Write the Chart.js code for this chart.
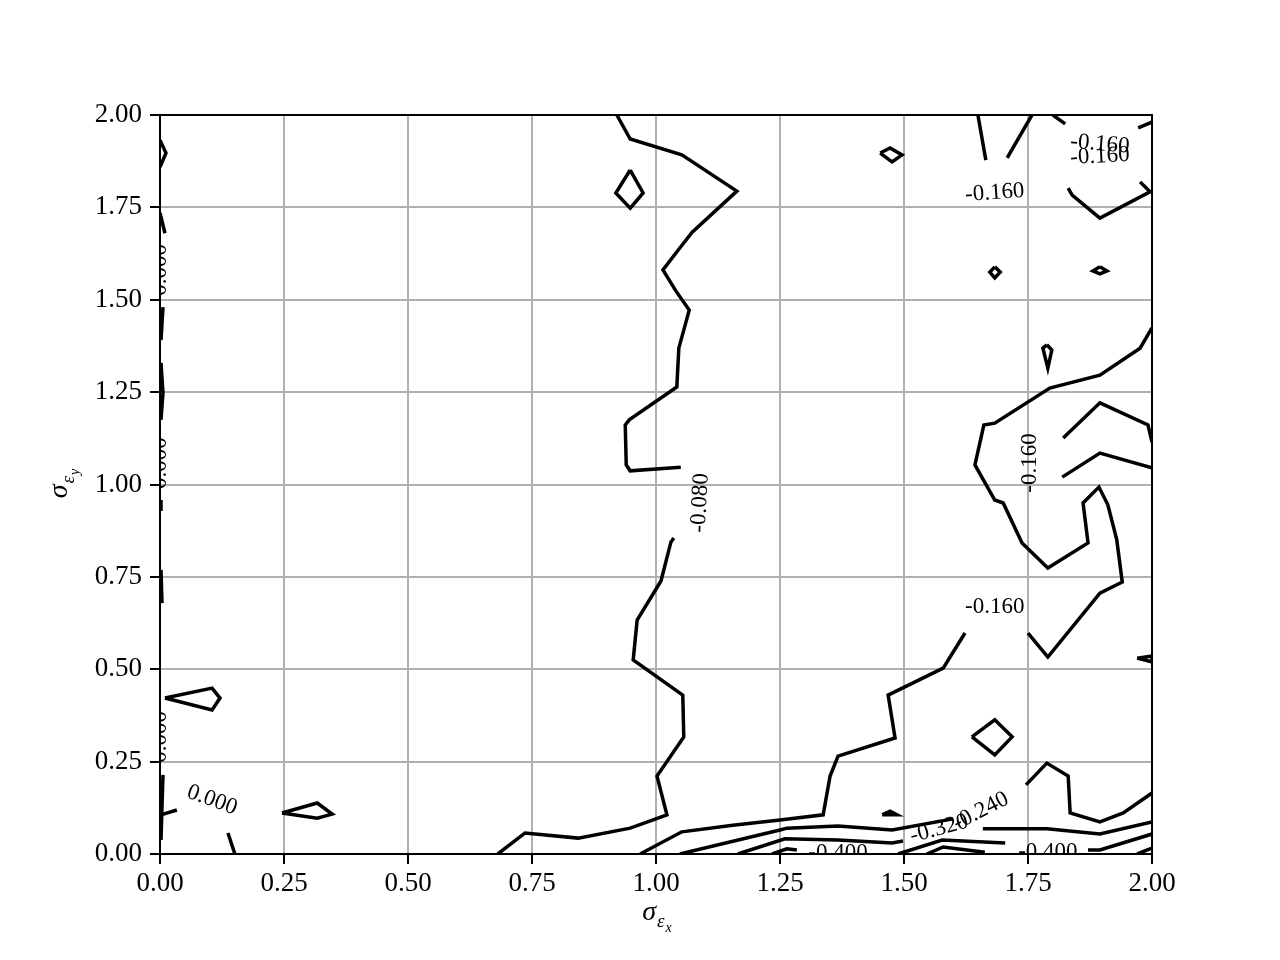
<!DOCTYPE html>
<html>
<head>
<meta charset="utf-8">
<script src="https://cdn.jsdelivr.net/npm/chart.js@4/dist/chart.umd.min.js"></script>
<style>
  body { margin: 0; background: #fff; }
  #wrap { width: 1280px; height: 960px; }
</style>
</head>
<body>
<div id="wrap"><canvas id="contourChart" width="1280" height="960"></canvas></div>
<script>
// contour polylines, as [sigma_ex, sigma_ey]
const c080Upper = [[0.921, 2.0], [0.948, 1.935], [1.052, 1.892], [1.163, 1.794], [1.073, 1.683], [1.048, 1.640], [1.014, 1.581], [1.040, 1.524], [1.067, 1.472], [1.046, 1.369], [1.042, 1.264], [0.946, 1.175], [0.938, 1.161], [0.940, 1.053], [0.948, 1.037], [1.050, 1.047]];
const c080Lower = [[1.036, 0.855], [1.030, 0.844], [1.010, 0.739], [0.962, 0.633], [0.954, 0.525], [1.054, 0.430], [1.056, 0.317], [1.002, 0.211], [1.022, 0.106], [0.948, 0.070], [0.843, 0.043], [0.736, 0.057], [0.681, 0.0]];
const c080Diamond = [[0.948, 1.851], [0.974, 1.789], [0.948, 1.748], [0.919, 1.789], [0.948, 1.851]];

const c160Main = [[0.968, 0.0], [1.052, 0.060], [1.155, 0.078], [1.250, 0.092], [1.337, 0.106], [1.351, 0.211], [1.367, 0.265], [1.482, 0.314], [1.468, 0.430], [1.579, 0.503], [1.623, 0.598]];
const c160Right = [[1.750, 0.598], [1.790, 0.533], [1.895, 0.706], [1.940, 0.736], [1.929, 0.850], [1.911, 0.945], [1.893, 0.993], [1.861, 0.950], [1.871, 0.842], [1.790, 0.774], [1.738, 0.842], [1.700, 0.950], [1.683, 0.958], [1.643, 1.053], [1.661, 1.161], [1.683, 1.166], [1.794, 1.261], [1.895, 1.296], [1.976, 1.369], [2.0, 1.424]];
const c160Inner1 = [[1.821, 1.126], [1.895, 1.221], [1.992, 1.161], [2.0, 1.115]];
const c160Inner2 = [[1.819, 1.020], [1.895, 1.085], [2.0, 1.045]];
const c160TopA = [[1.649, 2.0], [1.665, 1.878]];
const c160TopB = [[1.758, 2.0], [1.708, 1.884]];
const c160TopC = [[1.800, 2.0], [1.825, 1.976]];
const c160TopD = [[1.972, 1.965], [2.0, 1.981]];
const c160Vee = [[1.831, 1.802], [1.839, 1.783], [1.895, 1.721], [1.996, 1.792], [1.976, 1.819]];
const c160Diamond1 = [[1.452, 1.897], [1.472, 1.911], [1.496, 1.892], [1.476, 1.873], [1.452, 1.897]];
const c160Diamond2 = [[1.683, 1.589], [1.694, 1.575], [1.683, 1.559], [1.673, 1.575], [1.683, 1.589]];
const c160Diamond3 = [[1.895, 1.589], [1.909, 1.578], [1.895, 1.570], [1.881, 1.578], [1.895, 1.589]];
const c160Drop = [[1.788, 1.378], [1.798, 1.364], [1.790, 1.315], [1.780, 1.369], [1.788, 1.378]];
const c160Wedge = [[1.970, 0.530], [2.0, 0.536], [2.0, 0.520], [1.970, 0.530]];
const c160Diamond4 = [[1.637, 0.317], [1.683, 0.363], [1.718, 0.317], [1.683, 0.268], [1.637, 0.317]];
const c160Blob = [[1.456, 0.106], [1.472, 0.116], [1.486, 0.106], [1.456, 0.106]];

const c240Left = [[1.048, 0.0], [1.250, 0.065], [1.264, 0.070], [1.367, 0.076], [1.476, 0.065], [1.599, 0.095]];
const c240Right = [[1.746, 0.187], [1.788, 0.246], [1.831, 0.211], [1.835, 0.111], [1.895, 0.087], [1.942, 0.111], [2.0, 0.165]];
const c320Left = [[1.165, 0.0], [1.260, 0.041], [1.367, 0.038], [1.476, 0.030], [1.498, 0.035]];
const c320Right = [[1.659, 0.068], [1.788, 0.068], [1.895, 0.054], [2.0, 0.087]];
const c400Left = [[1.234, 0.0], [1.264, 0.014], [1.284, 0.011]];
const c400Mid = [[1.488, 0.0], [1.577, 0.038], [1.704, 0.030]];
const c400Right = [[1.871, 0.011], [1.895, 0.011], [2.0, 0.054]];
const c480Mid = [[1.546, 0.0], [1.579, 0.019], [1.663, 0.005]];
const c480Right = [[1.970, 0.0], [2.0, 0.016]];

const c000Top = [[0.0, 1.932], [0.012, 1.897], [0.0, 1.859]];
const c000A = [[0.0, 1.735], [0.010, 1.680]];
const c000B = [[0.006, 1.480], [0.002, 1.391]];
const c000C = [[0.002, 1.329], [0.006, 1.248], [0.002, 1.175]];
const c000D = [[0.002, 0.958], [0.002, 0.928]];
const c000E = [[0.002, 0.769], [0.004, 0.679]];
const c000Tri = [[0.010, 0.422], [0.105, 0.449], [0.121, 0.422], [0.105, 0.390], [0.010, 0.422]];
const c000F = [[0.006, 0.214], [0.002, 0.038]];
const c000G = [[0.002, 0.106], [0.034, 0.119]];
const c000H = [[0.137, 0.057], [0.151, 0.0]];
const c000Tri2 = [[0.246, 0.111], [0.317, 0.138], [0.347, 0.108], [0.317, 0.097], [0.246, 0.111]];

const contours = [c080Upper, c080Lower, c080Diamond, c160Main, c160Right, c160Inner1, c160Inner2,
  c160TopA, c160TopB, c160TopC, c160TopD, c160Vee, c160Diamond1, c160Diamond2, c160Diamond3,
  c160Drop, c160Wedge, c160Diamond4, c160Blob, c240Left, c240Right, c320Left, c320Right,
  c400Left, c400Mid, c400Right, c480Mid, c480Right, c000Top, c000A, c000B, c000C, c000D,
  c000E, c000Tri, c000F, c000G, c000H, c000Tri2];

// contour labels: text, x, y, rotation (deg)
const labelTexts = ['-0.080', '-0.160', '-0.160', '-0.160', '-0.160', '-0.160', '-0.320', '-0.240', '-0.400', '-0.400', '0.000', '0.000', '0.000', '0.000'];
const labelX = [1.089, 1.683, 1.895, 1.895, 1.754, 1.683, 1.571, 1.655, 1.367, 1.790, 0.105, 0.0, 0.0, 0.0];
const labelY = [0.950, 1.789, 1.921, 1.888, 1.058, 0.668, 0.068, 0.116, 0.002, 0.006, 0.146, 1.581, 1.058, 0.317];
const labelRot = [-87, -4, 5, -3, -90, 0, -15, -27, 0, 0, 20, -90, -90, -90];

const tickValues = [0, 0.25, 0.5, 0.75, 1.0, 1.25, 1.5, 1.75, 2.0];

const serif = '"Liberation Serif", "DejaVu Serif", serif';

const extras = {
    id: 'extras',
    afterDatasetsDraw(chart) {
        const ctx = chart.ctx;
        const area = chart.chartArea;
        const xs = chart.scales.x, ys = chart.scales.y;
        ctx.save();
        ctx.beginPath();
        ctx.rect(area.left, area.top, area.right - area.left, area.bottom - area.top);
        ctx.clip();
        ctx.fillStyle = '#000';
        ctx.font = '23px ' + serif;
        ctx.textAlign = 'center';
        ctx.textBaseline = 'middle';
        labelTexts.forEach((t, i) => {
            ctx.save();
            ctx.translate(xs.getPixelForValue(labelX[i]), ys.getPixelForValue(labelY[i]));
            ctx.rotate(labelRot[i] * Math.PI / 180);
            ctx.fillText(t, 0, 0);
            ctx.restore();
        });
        ctx.restore();
    },
    afterDraw(chart) {
        const ctx = chart.ctx;
        const area = chart.chartArea;
        ctx.save();
        ctx.strokeStyle = '#000';
        ctx.lineWidth = 2;
        ctx.beginPath();
        ctx.moveTo(area.left, area.top);
        ctx.lineTo(area.right, area.top);
        ctx.lineTo(area.right, area.bottom);
        ctx.stroke();

        // sigma with nested subscripts
        function sigmaLabel(sub) {
            const parts = [['σ', 28, 0], ['ε', 19, 7], [sub, 14, 12]];
            let w = 0;
            parts.forEach(p => { ctx.font = 'italic ' + p[1] + 'px ' + serif; w += ctx.measureText(p[0]).width; });
            let x = -w / 2;
            ctx.textBaseline = 'alphabetic';
            ctx.textAlign = 'left';
            parts.forEach(p => {
                ctx.font = 'italic ' + p[1] + 'px ' + serif;
                ctx.fillText(p[0], x, p[2]);
                x += ctx.measureText(p[0]).width + 1;
            });
        }
        ctx.fillStyle = '#000';
        ctx.save();
        ctx.translate((area.left + area.right) / 2, 920);
        sigmaLabel('x');
        ctx.restore();
        ctx.save();
        ctx.translate(67, (area.top + area.bottom) / 2);
        ctx.rotate(-Math.PI / 2);
        sigmaLabel('y');
        ctx.restore();
        ctx.restore();
    }
};

const axisStyle = {
    type: 'linear',
    min: 0,
    max: 2,
    afterBuildTicks: (scale) => { scale.ticks = tickValues.map(v => ({ value: v })); },
    ticks: {
        callback: (v) => Number(v).toFixed(2),
        color: '#000',
        font: { family: serif, size: 27 }
    },
    grid: { color: '#b0b0b0', lineWidth: 2, tickColor: '#000', tickLength: 10, tickWidth: 2 },
    border: { color: '#000', width: 2 }
};

new Chart(document.getElementById('contourChart'), {
    type: 'scatter',
    data: {
        datasets: contours.map(pts => ({
            data: pts.map(([x, y]) => ({ x, y })),
            showLine: true,
            borderColor: '#000',
            borderWidth: 3.5,
            pointRadius: 0,
            fill: false,
            tension: 0
        }))
    },
    options: {
        responsive: false,
        animation: false,
        layout: { padding: { top: 115, right: 128, left: 0, bottom: 0 } },
        plugins: { legend: { display: false }, tooltip: { enabled: false } },
        scales: {
            x: Object.assign({}, axisStyle, {
                position: 'bottom',
                ticks: Object.assign({}, axisStyle.ticks, { padding: 4, maxRotation: 0 }),
                afterFit: (scale) => { scale.height = 106; }
            }),
            y: Object.assign({}, axisStyle, {
                position: 'left',
                ticks: Object.assign({}, axisStyle.ticks, { padding: 8 }),
                afterFit: (scale) => { scale.width = 160; }
            })
        }
    },
    plugins: [extras]
});
</script>
</body>
</html>
